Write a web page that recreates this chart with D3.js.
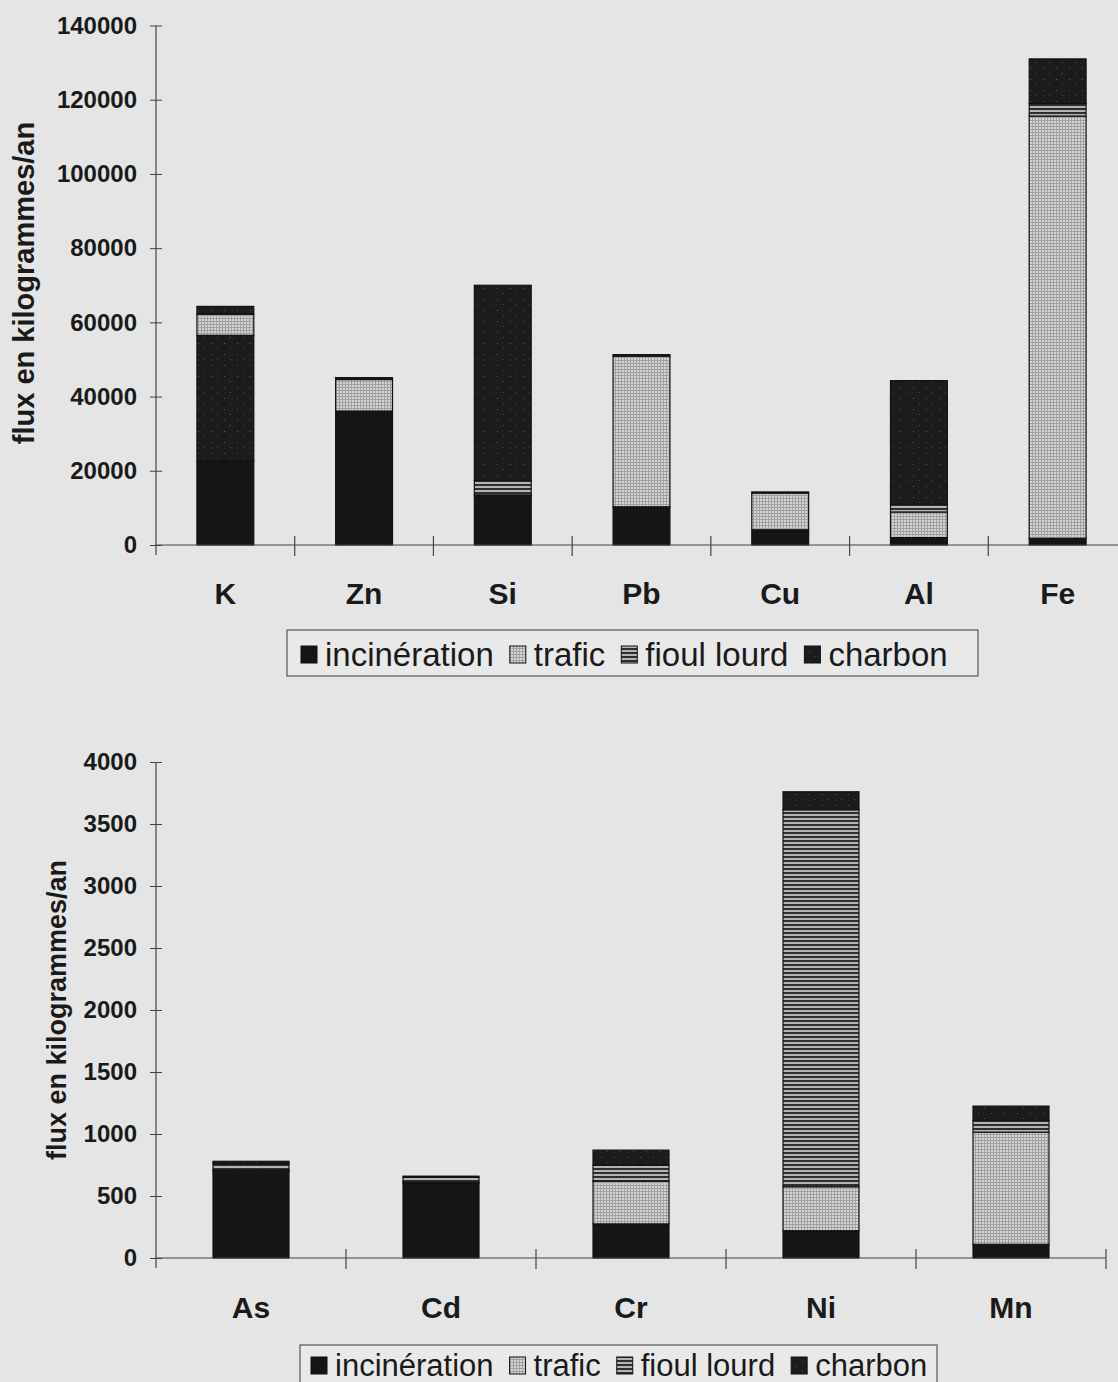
<!DOCTYPE html>
<html>
<head>
<meta charset="utf-8">
<script src="https://cdn.jsdelivr.net/npm/d3@7"></script>
<style>
  body { margin: 0; background: #e6e6e6; }
  svg { display: block; font-family: "Liberation Sans", Arial, sans-serif; }
</style>
</head>
<body>
<div id="wrapper"></div>
<script>
// DATA (kg / an)
const seriesNames = ["incinération", "trafic", "fioul lourd", "charbon"]

const categoriesTop = ["K", "Zn", "Si", "Pb", "Cu", "Al", "Fe"]
const incinerationTop = [22700, 36100, 13200, 10300, 4100, 2000, 1800]
const traficTop = [5700, 8500, 300, 40600, 9900, 6900, 113800]
const fioulTop = [0, 0, 3900, 0, 0, 2100, 3400]
const charbonTop = [35900, 500, 52600, 400, 300, 33300, 12000]
const ticksTop = [0, 20000, 40000, 60000, 80000, 100000, 120000, 140000]

const categoriesBottom = ["As", "Cd", "Cr", "Ni", "Mn"]
const incinerationBottom = [700, 605, 275, 220, 110]
const traficBottom = [10, 5, 345, 355, 905]
const fioulBottom = [50, 40, 130, 3040, 95]
const charbonBottom = [20, 10, 120, 145, 115]
const ticksBottom = [0, 500, 1000, 1500, 2000, 2500, 3000, 3500, 4000]

// K is stacked differently in the figure: most of its charbon sits under trafic,
// with a thin charbon cap on top (share of charbon drawn as the cap)
const stackOrderOverride = { K: ["incinération", "charbon", "trafic", "fioul lourd", "charbon-cap"] }
const capShare = { K: 2100 }

const patternId = { "incinération": "p-inc", "trafic": "p-traf", "fioul lourd": "p-fioul", "charbon": "p-charb" }

const width = 1118, height = 1382
const svg = d3.select("#wrapper").append("svg")
  .attr("width", width)
  .attr("height", height)

svg.append("rect").attr("width", width).attr("height", height).attr("fill", "#e5e5e5")

// PATTERNS
const defs = svg.append("defs")
const pInc = defs.append("pattern").attr("id", "p-inc").attr("patternUnits", "userSpaceOnUse").attr("width", 4).attr("height", 4)
pInc.append("rect").attr("width", 4).attr("height", 4).attr("fill", "#151515")

const pTraf = defs.append("pattern").attr("id", "p-traf").attr("patternUnits", "userSpaceOnUse").attr("width", 3).attr("height", 3)
pTraf.append("rect").attr("width", 3).attr("height", 3).attr("fill", "#d4d4d4")
pTraf.append("rect").attr("width", 3).attr("height", 1).attr("fill", "#a0a0a0")
pTraf.append("rect").attr("width", 1).attr("height", 3).attr("fill", "#a0a0a0")

const pFioul = defs.append("pattern").attr("id", "p-fioul").attr("patternUnits", "userSpaceOnUse").attr("width", 6).attr("height", 4)
pFioul.append("rect").attr("width", 6).attr("height", 4).attr("fill", "#b4b4b4")
pFioul.append("rect").attr("width", 6).attr("height", 2).attr("fill", "#2e2e2e")

const pCharb = defs.append("pattern").attr("id", "p-charb").attr("patternUnits", "userSpaceOnUse").attr("width", 13).attr("height", 11)
pCharb.append("rect").attr("width", 13).attr("height", 11).attr("fill", "#1c1c1c")
pCharb.append("rect").attr("x", 3).attr("y", 2).attr("width", 1).attr("height", 1).attr("fill", "#5a5a5a")
pCharb.append("rect").attr("x", 9).attr("y", 7).attr("width", 1).attr("height", 1).attr("fill", "#4a4a4a")

function drawChart(opts) {
  const { categories, values, ticks, yTop, yBottom, xLeft, xRight, labelY, titleX, titleY, barFrac } = opts

  const x = d3.scaleBand().domain(categories).range([xLeft, xRight]).padding(0)
  const y = d3.scaleLinear().domain([0, d3.max(ticks)]).range([yBottom, yTop])
  const g = svg.append("g")

  // stacked segments
  categories.forEach((cat, i) => {
    const order = stackOrderOverride[cat] || seriesNames
    const cap = capShare[cat] || 0
    let base = 0
    const bw = x.bandwidth() * barFrac
    const bx = x(cat) + (x.bandwidth() - bw) / 2
    order.forEach(name => {
      let key = name, v
      if (name === "charbon-cap") { key = "charbon"; v = cap }
      else if (name === "charbon") v = values[name][i] - cap
      else v = values[name][i]
      if (!v) return
      g.append("rect")
        .attr("x", bx)
        .attr("y", y(base + v))
        .attr("width", bw)
        .attr("height", y(base) - y(base + v))
        .attr("fill", `url(#${patternId[key]})`)
        .attr("stroke", "#111")
        .attr("stroke-width", 1.2)
      base += v
    })
  })

  // y axis
  const yAxis = g.append("g")
    .attr("transform", `translate(${xLeft},0)`)
    .call(d3.axisLeft(y).tickValues(ticks).tickSize(6).tickFormat(d3.format("d")))
  yAxis.select(".domain").remove()
  yAxis.selectAll(".tick line").attr("x1", -6).attr("x2", 6).attr("stroke", "#444")
  yAxis.selectAll(".tick text")
    .attr("x", -19)
    .attr("font-size", 24)
    .attr("font-weight", "bold")
    .attr("fill", "#1a1a1a")
    .attr("font-family", "Liberation Sans, Arial, sans-serif")
  g.append("line")
    .attr("x1", xLeft).attr("x2", xLeft)
    .attr("y1", yTop).attr("y2", yBottom + 10)
    .attr("stroke", "#444").attr("stroke-width", 1.2)

  // x axis
  g.append("line")
    .attr("x1", xLeft).attr("x2", xRight)
    .attr("y1", yBottom).attr("y2", yBottom)
    .attr("stroke", "#444").attr("stroke-width", 1.2)
  categories.forEach((cat, i) => {
    if (i === 0) return
    g.append("line")
      .attr("x1", x(cat)).attr("x2", x(cat))
      .attr("y1", yBottom - 9).attr("y2", yBottom + 11)
      .attr("stroke", "#444").attr("stroke-width", 1.2)
  })
  if (opts.endTick) {
    g.append("line")
      .attr("x1", xRight).attr("x2", xRight)
      .attr("y1", yBottom - 9).attr("y2", yBottom + 11)
      .attr("stroke", "#444").attr("stroke-width", 1.2)
  }
  g.selectAll(".cat-label")
    .data(categories)
    .join("text")
    .attr("x", d => x(d) + x.bandwidth() / 2)
    .attr("y", labelY)
    .attr("text-anchor", "middle")
    .attr("font-size", 30)
    .attr("font-weight", "bold")
    .attr("fill", "#1a1a1a")
    .text(d => d)

  // y title
  g.append("text")
    .attr("transform", `translate(${titleX},${titleY}) rotate(-90)`)
    .attr("text-anchor", "middle")
    .attr("font-size", opts.titleSize)
    .attr("font-weight", "bold")
    .attr("fill", "#1a1a1a")
    .text("flux en kilogrammes/an")

  // legend
  const lg = g.append("g")
  const box = opts.legend
  lg.append("rect")
    .attr("x", box.x).attr("y", box.y)
    .attr("width", box.w).attr("height", box.h)
    .attr("fill", "#e9e9e9").attr("stroke", "#555").attr("stroke-width", 1.2)
  let cx = box.x + box.pad
  seriesNames.forEach(name => {
    lg.append("rect")
      .attr("x", cx).attr("y", box.cy - 8)
      .attr("width", 16).attr("height", 17)
      .attr("fill", `url(#${patternId[name]})`)
      .attr("stroke", "#111").attr("stroke-width", 1)
    cx += 24
    const t = lg.append("text")
      .attr("x", cx).attr("y", box.cy + box.fs * 0.36)
      .attr("font-size", box.fs)
      .attr("fill", "#1a1a1a")
      .text(name)
    cx += t.node().getComputedTextLength() + 16
  })
}

drawChart({
  categories: categoriesTop,
  values: { "incinération": incinerationTop, "trafic": traficTop, "fioul lourd": fioulTop, "charbon": charbonTop },
  ticks: ticksTop,
  yTop: 25.5, yBottom: 545, xLeft: 156, xRight: 1127,
  labelY: 604, titleX: 34, titleY: 283, titleSize: 29, barFrac: 0.41, endTick: false,
  legend: { x: 287, y: 630, w: 691, h: 46, cy: 654, pad: 14, fs: 33 }
})

drawChart({
  categories: categoriesBottom,
  values: { "incinération": incinerationBottom, "trafic": traficBottom, "fioul lourd": fioulBottom, "charbon": charbonBottom },
  ticks: ticksBottom,
  yTop: 762, yBottom: 1258, xLeft: 156, xRight: 1106,
  labelY: 1318, titleX: 66, titleY: 1010, titleSize: 27, barFrac: 0.4, endTick: true,
  legend: { x: 300, y: 1345, w: 637, h: 44, cy: 1365, pad: 11, fs: 31 }
})
</script>
</body>
</html>
